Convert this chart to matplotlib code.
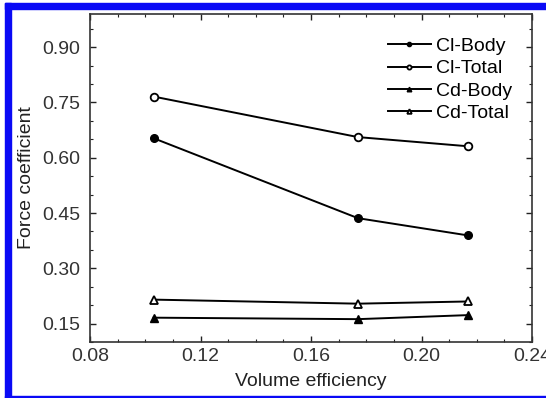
import matplotlib
matplotlib.use("Agg")
import matplotlib.pyplot as plt
from matplotlib.ticker import MultipleLocator, FormatStrFormatter
from matplotlib.patches import Rectangle

plt.rcParams['font.family'] = ['Liberation Sans', 'DejaVu Sans']

# Data
volume_eff = [0.103, 0.177, 0.217]
cl_body = [0.653, 0.436, 0.389]
cl_total = [0.766, 0.656, 0.631]
cd_body = [0.166, 0.162, 0.173]
cd_total = [0.215, 0.204, 0.210]

x_ticks = [0.08, 0.12, 0.16, 0.20, 0.24]
y_ticks = [0.15, 0.30, 0.45, 0.60, 0.75, 0.90]

fig = plt.figure(figsize=(5.46, 3.98), dpi=100)
ax = fig.add_axes([90 / 546, 1 - 342 / 398, 442 / 546, 328 / 398])

ax.plot(volume_eff, cl_body, color='black', lw=1.4, marker='o', ms=5.5,
        mfc='black', label='Cl-Body')
ax.plot(volume_eff, cl_total, color='black', lw=1.4, marker='o', ms=5.5,
        mfc='white', mew=1.3, label='Cl-Total')
ax.plot(volume_eff, cd_body, color='black', lw=1.4, marker='^', ms=6,
        mfc='black', label='Cd-Body')
ax.plot(volume_eff, cd_total, color='black', lw=1.4, marker='^', ms=6,
        mfc='white', mew=1.3, label='Cd-Total')

ax.set_xlim(0.08, 0.24)
ax.set_ylim(0.10, 0.99)
ax.set_xticks(x_ticks)
ax.set_yticks(y_ticks)
ax.xaxis.set_major_formatter(FormatStrFormatter('%.2f'))
ax.yaxis.set_major_formatter(FormatStrFormatter('%.2f'))
ax.xaxis.set_minor_locator(MultipleLocator(0.01))
ax.yaxis.set_minor_locator(MultipleLocator(0.05))
ax.tick_params(which='both', direction='in', top=True, right=True,
               labelsize=14, colors='#222222', labelcolor='#333333')
ax.tick_params(which='major', length=4.5, width=1.0)
ax.tick_params(which='minor', length=2.5, width=0.8)
ax.tick_params(axis='x', which='major', pad=4)
ax.tick_params(axis='y', which='major', pad=7)
for sp in ax.spines.values():
    sp.set_linewidth(1.2)
    sp.set_color('#333333')

ax.set_xlabel('Volume efficiency', fontsize=14, color='#222222', labelpad=6)
ax.set_ylabel('Force coefficient', fontsize=14, color='#222222', labelpad=5)

ax.legend(loc='upper right', frameon=False, fontsize=14, markerscale=0.55,
          handlelength=2.2, handletextpad=0.25, labelspacing=0.24,
          borderaxespad=0, bbox_to_anchor=(0.972, 0.952))

# blue frame of the cropped source image
blue = '#0a0af5'
fig.patches.append(Rectangle((5 / 546, 0), 6 / 546, 1 - 3 / 398,
                             transform=fig.transFigure, color=blue))
fig.patches.append(Rectangle((5 / 546, 1 - 9 / 398), 1, 6 / 398,
                             transform=fig.transFigure, color=blue))
fig.patches.append(Rectangle((5 / 546, 0), 1, 2 / 398,
                             transform=fig.transFigure, color=blue))

fig.savefig('out.png', dpi=100)
